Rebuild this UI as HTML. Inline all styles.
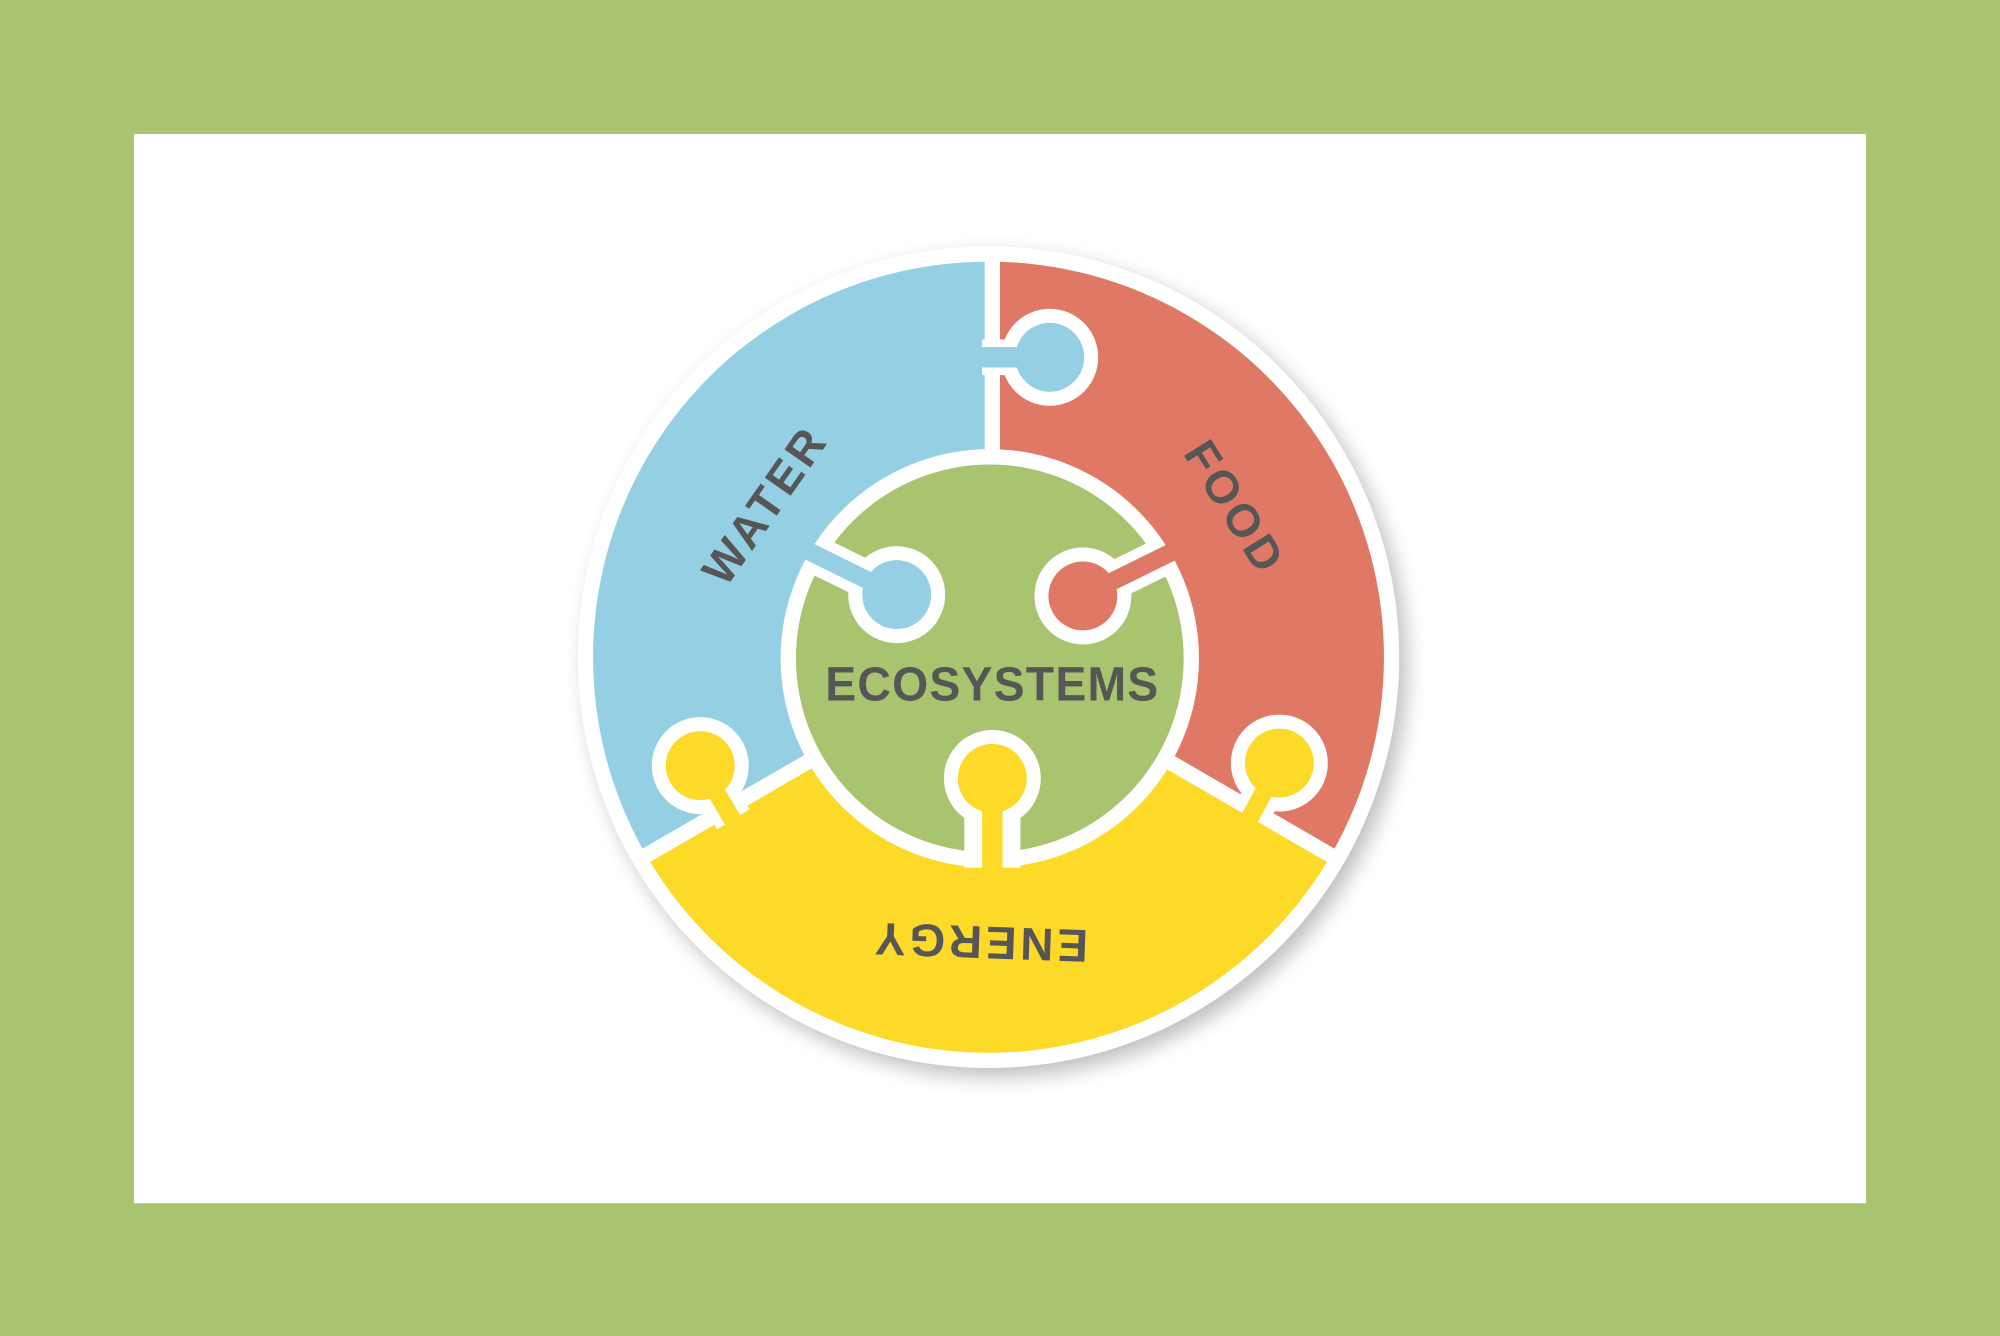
<!DOCTYPE html>
<html><head><meta charset="utf-8"><style>
html,body{margin:0;padding:0;background:#A8C46E;}
svg{display:block;}
text{font-family:"Liberation Sans",sans-serif;font-weight:bold;fill:#565656;}
</style></head><body>
<svg width="2000" height="1336" viewBox="0 0 1568 1047" preserveAspectRatio="none" xmlns="http://www.w3.org/2000/svg">
<defs>
<filter id="sh" x="-20%" y="-20%" width="140%" height="140%"><feGaussianBlur stdDeviation="8"/></filter>
</defs>
<rect width="1568" height="1047" fill="#A8C46E"/>
<rect x="105" y="105" width="1358" height="838" fill="#fff"/>
<circle cx="781" cy="522" r="322" fill="#000" opacity="0.25" filter="url(#sh)"/>
<circle cx="775" cy="515" r="322" fill="#fff"/>
<path d="M775,515 L775,205 A310,310 0 0 0 506.5,670 Z" fill="#95CFE3"/>
<path d="M775,515 L775,205 A310,310 0 0 1 1043.5,670 Z" fill="#E07866"/>
<path d="M775,515 L506.5,670 A310,310 0 0 0 1043.5,670 Z" fill="#FDD928"/>
<g stroke="#fff" stroke-width="12">
<line x1="778" y1="515" x2="778" y2="200"/>
<line x1="775" y1="515" x2="502" y2="673"/>
<line x1="775" y1="515" x2="1048" y2="673"/>
</g>
<circle cx="776" cy="516" r="164" fill="#fff"/>
<circle cx="776" cy="516" r="152" fill="#A8C46E"/>
<g fill="#fff">
<circle cx="823" cy="280" r="38"/><rect x="770" y="266" width="40" height="28"/>
<circle cx="703" cy="466" r="38"/><line x1="703" y1="466" x2="642" y2="436" stroke="#fff" stroke-width="30"/>
<circle cx="849" cy="467" r="38"/><line x1="849" y1="467" x2="912" y2="436" stroke="#fff" stroke-width="30"/>
<circle cx="778" cy="610" r="38"/><rect x="756" y="610" width="44" height="70"/>
<circle cx="549" cy="600" r="38"/><line x1="549" y1="600" x2="575" y2="642" stroke="#fff" stroke-width="30"/>
<circle cx="1003" cy="598" r="38"/><line x1="1003" y1="598" x2="980" y2="640" stroke="#fff" stroke-width="30"/>
</g>
<circle cx="823" cy="280" r="27" fill="#95CFE3"/><rect x="765" y="272" width="50" height="16" fill="#95CFE3"/>
<circle cx="703" cy="466" r="27" fill="#95CFE3"/><line x1="703" y1="466" x2="630" y2="430" stroke="#95CFE3" stroke-width="14"/>
<circle cx="849" cy="467" r="27" fill="#E07866"/><line x1="849" y1="467" x2="924" y2="430" stroke="#E07866" stroke-width="14"/>
<circle cx="778" cy="610" r="27" fill="#FDD928"/><rect x="770" y="610" width="16" height="80" fill="#FDD928"/>
<circle cx="549" cy="600" r="27" fill="#FDD928"/><line x1="549" y1="600" x2="580" y2="652" stroke="#FDD928" stroke-width="14"/>
<circle cx="1003" cy="598" r="27" fill="#FDD928"/><line x1="1003" y1="598" x2="975" y2="650" stroke="#FDD928" stroke-width="14"/>
<text x="647" y="549" font-size="38" textLength="262" lengthAdjust="spacingAndGlyphs" letter-spacing="1">ECOSYSTEMS</text>
<text x="600" y="408" font-size="36" text-anchor="middle" letter-spacing="3" transform="rotate(-55 600 396)">WATER</text>
<text x="968" y="410" font-size="36" text-anchor="middle" letter-spacing="3" transform="rotate(58 968 398)">FOOD</text>
<text x="768" y="750" font-size="36" text-anchor="middle" letter-spacing="3" transform="rotate(182 768 738)">ENERGY</text>
</svg>
</body></html>
